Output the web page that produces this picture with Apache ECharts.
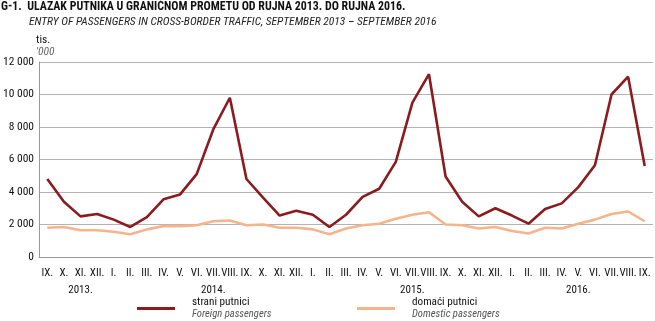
<!DOCTYPE html>
<html>
<head>
<meta charset="utf-8">
<script src="https://cdn.jsdelivr.net/npm/echarts@6/dist/echarts.min.js"></script>
<style>
  html, body { margin: 0; padding: 0; background: #fff; }
  #chart { width: 655px; height: 321px; }
</style>
</head>
<body>
<div id="chart"></div>
<script>
// Months from September 2013 to September 2016
const months = [
  'IX.', 'X.', 'XI.', 'XII.',
  'I.', 'II.', 'III.', 'IV.', 'V.', 'VI.', 'VII.', 'VIII.', 'IX.', 'X.', 'XI.', 'XII.',
  'I.', 'II.', 'III.', 'IV.', 'V.', 'VI.', 'VII.', 'VIII.', 'IX.', 'X.', 'XI.', 'XII.',
  'I.', 'II.', 'III.', 'IV.', 'V.', 'VI.', 'VII.', 'VIII.', 'IX.'
];

// Year captions under the month row, keyed by month index
const yearLabels = { 2: '2013.', 10: '2014.', 22: '2015.', 32: '2016.' };

// Entries in thousands
const foreignPassengers = [
  4800, 3400, 2500, 2650,
  2300, 1850, 2450, 3550, 3850, 5100, 7850, 9800, 4800, 3650, 2550, 2850,
  2600, 1850, 2600, 3700, 4200, 5850, 9500, 11250, 4950, 3400, 2500, 3000,
  2550, 2050, 2950, 3300, 4300, 5650, 10000, 11100, 5600
];
const domesticPassengers = [
  1800, 1850, 1650, 1650,
  1550, 1400, 1700, 1900, 1900, 1950, 2200, 2250, 1950, 2000, 1800, 1800,
  1700, 1400, 1750, 1950, 2050, 2350, 2600, 2750, 2000, 1950, 1750, 1850,
  1600, 1450, 1800, 1750, 2050, 2300, 2650, 2800, 2200
];

const seriesNames = ['strani putnici', 'domaći putnici'];
const seriesNamesEn = ['Foreign passengers', 'Domestic passengers'];
const yTicks = { min: 0, max: 12000, step: 2000 };

const FONT = "'Roboto Condensed', 'Liberation Sans', sans-serif";
const RED = '#8a1c1f';
const PEACH = '#f5b48c';

const chart = echarts.init(document.getElementById('chart'), null, { renderer: 'canvas' });

function legendFor(i, left, color) {
  return {
    left: left, top: 297, padding: 0, orient: 'horizontal',
    icon: 'rect', itemWidth: 38, itemHeight: 3,
    data: [seriesNames[i]],
    selectedMode: false,
    itemStyle: { color: color },
    formatter: name => '{a|' + name + '}\n{b|' + seriesNamesEn[i] + '}',
    textStyle: {
      rich: {
        a: { fontFamily: FONT, fontSize: 11.2, color: '#111', padding: [0, 0, 0, 12], lineHeight: 12 },
        b: { fontFamily: FONT, fontSize: 10.6, fontStyle: 'italic', color: '#555', padding: [0, 0, 0, 12], lineHeight: 12 }
      }
    }
  };
}

function caption(text, left, top, style) {
  return {
    text: text, left: left, top: top, padding: 0,
    textStyle: Object.assign({ fontFamily: FONT, fontSize: 11.5, fontWeight: 'normal', color: '#111' }, style)
  };
}

chart.setOption({
  animation: false,
  backgroundColor: '#fff',
  title: [
    caption('G-1.  ULAZAK PUTNIKA U GRANIČNOM PROMETU OD RUJNA 2013. DO RUJNA 2016.', 1, 1,
      { fontSize: 11.9, fontWeight: 'bold' }),
    caption('ENTRY OF PASSENGERS IN CROSS-BORDER TRAFFIC, SEPTEMBER 2013 – SEPTEMBER 2016', 29, 16,
      { fontStyle: 'italic', color: '#222' }),
    caption('tis.', 36, 34, {}),
    caption("'000", 36, 46, { fontStyle: 'italic', color: '#666' })
  ],
  legend: [legendFor(0, 137, RED), legendFor(1, 357, PEACH)],
  grid: { left: 34, right: 2, top: 62, bottom: 64, containLabel: false },
  xAxis: [
    {
      type: 'category', data: months, boundaryGap: true,
      axisLine: { show: true, lineStyle: { color: '#999', width: 1 } },
      axisTick: { show: false },
      axisLabel: { interval: 0, margin: 11, fontFamily: FONT, fontSize: 11, color: '#111' }
    },
    {
      type: 'category', data: months, boundaryGap: true, position: 'bottom', offset: 17,
      axisLine: { show: false }, axisTick: { show: false },
      axisLabel: {
        interval: 0, margin: 11, fontFamily: FONT, fontSize: 11, color: '#111',
        formatter: (v, idx) => yearLabels[idx] || ''
      }
    }
  ],
  yAxis: {
    type: 'value', min: yTicks.min, max: yTicks.max, interval: yTicks.step,
    axisLine: { show: true, lineStyle: { color: '#999', width: 1 } },
    axisTick: { show: false },
    splitLine: { show: true, lineStyle: { color: '#b3b3b3', width: 1 } },
    axisLabel: {
      margin: 5, fontFamily: FONT, fontSize: 11.5, color: '#111',
      formatter: v => String(v).replace(/\B(?=(\d{3})+(?!\d))/g, ' ')
    }
  },
  series: [
    { name: seriesNames[0], type: 'line', data: foreignPassengers, xAxisIndex: 0,
      symbol: 'none', lineStyle: { color: RED, width: 2.6 }, itemStyle: { color: RED }, z: 3 },
    { name: seriesNames[1], type: 'line', data: domesticPassengers, xAxisIndex: 0,
      symbol: 'none', lineStyle: { color: PEACH, width: 2.6 }, itemStyle: { color: PEACH }, z: 2 }
  ]
});
</script>
</body>
</html>
